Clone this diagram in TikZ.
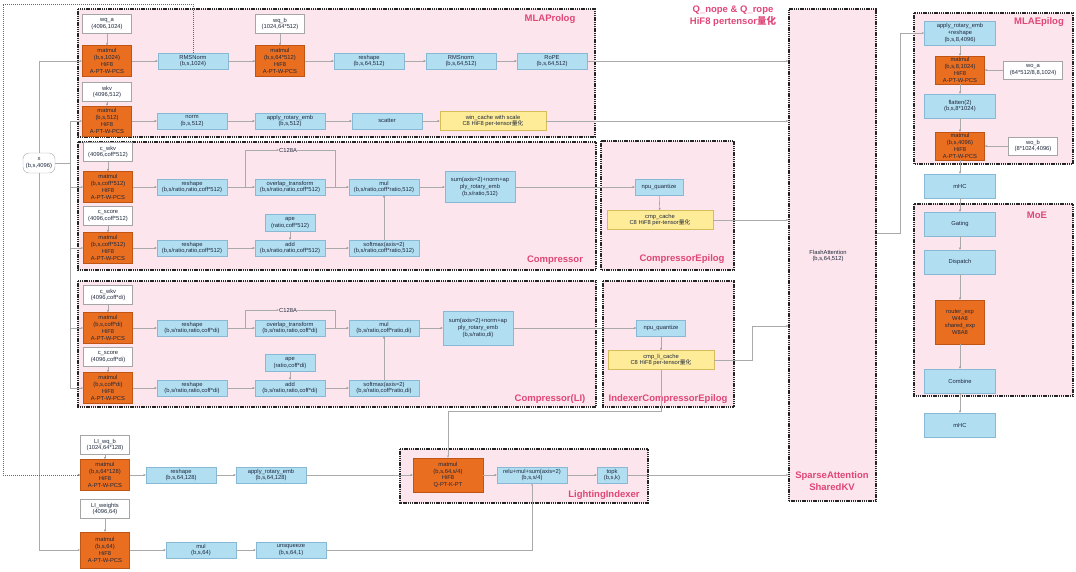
\documentclass[tikz,border=0pt]{standalone}
\usepackage{fontspec}
\setmainfont{Liberation Sans}
\newfontfamily\cjk{Noto Sans CJK SC}
\usetikzlibrary{arrows.meta}
\definecolor{grpfill}{RGB}{252,229,236}
\definecolor{opfill}{RGB}{178,222,242}
\definecolor{opline}{RGB}{135,185,212}
\definecolor{mmfill}{RGB}{234,110,32}
\definecolor{mmline}{RGB}{190,85,20}
\definecolor{cafill}{RGB}{255,236,153}
\definecolor{caline}{RGB}{215,188,90}
\definecolor{wline}{RGB}{165,165,165}
\definecolor{lnc}{RGB}{170,170,170}
\definecolor{ttl}{RGB}{224,70,120}
\definecolor{txt}{RGB}{30,40,60}
\tikzset{
    opnode/.style = {rectangle, draw=opline, fill=opfill, minimum width=70pt, minimum height=16pt, inner sep=0pt, align=center, text=txt, font=\fontsize{5.8}{6.6}\selectfont},
    bigop/.style = {opnode, minimum width=71pt, minimum height=24pt},
    mmnode/.style = {rectangle, draw=mmline, fill=mmfill, minimum width=49pt, minimum height=31pt, inner sep=0pt, align=center, text=txt, font=\fontsize{5.8}{6.8}\selectfont},
    wnode/.style = {rectangle, draw=wline, fill=white, minimum width=49pt, minimum height=19pt, inner sep=0pt, align=center, text=txt, font=\fontsize{5.8}{6.8}\selectfont},
    cachenode/.style = {rectangle, draw=caline, fill=cafill, minimum width=106pt, minimum height=19pt, inner sep=0pt, align=center, text=txt, font=\fontsize{5.8}{6.8}\selectfont},
    xnode/.style = {rectangle, rounded corners=6pt, draw=wline, fill=white, minimum width=32pt, minimum height=20pt, inner sep=0pt, align=center, text=txt, font=\fontsize{5.8}{6.8}\selectfont},
    lbl/.style = {inner sep=0pt, align=center, text=txt, font=\fontsize{5.8}{6.8}\selectfont},
    grp/.style = {draw=black!85, fill=grpfill, line width=1.1pt, dash pattern=on 1.4pt off 0.8pt},
    grptitle/.style = {inner sep=0pt, align=center, text=ttl, font=\fontsize{9.5}{11.5}\bfseries\selectfont},
    edgen/.style = {-{Stealth[length=2.5pt,width=2pt]}, draw=lnc, line width=0.6pt},
    linen/.style = {draw=lnc, line width=0.6pt},
    edged/.style = {-{Stealth[length=2.5pt,width=2pt]}, draw=black!60, line width=0.6pt, dash pattern=on 1pt off 1pt}, % qr to indexer
}

\begin{document}
\begin{tikzpicture}[x=1pt,y=-1pt]
\useasboundingbox (0,0) rectangle (1076,571);
% groups
\draw[grp] (78,9) rectangle (595,137);
\draw[grp] (78,142) rectangle (596,270);
\draw[grp] (601,141) rectangle (734,270);
\draw[grp] (78,281) rectangle (596,407);
\draw[grp] (603,281) rectangle (734,407);
\draw[grp] (400,449) rectangle (648,503);
\draw[grp] (914,13) rectangle (1073,164);
\draw[grp] (914,204) rectangle (1073,396);
\node[grp, minimum width=87pt, minimum height=492pt, inner sep=0pt] at (832.5,255) (sa) {};
%
\node[grptitle] at (550,19) (tmla) {MLAProlog};
\node[grptitle] at (733,16) (tq) {Q\_nope \& Q\_rope\\HiF8 pertensor{\cjk 量化}};
\node[grptitle] at (555,260) (tcmp) {Compressor};
\node[grptitle] at (682,259) (tcmpe) {CompressorEpilog};
\node[grptitle] at (550,399) (tcmpli) {Compressor(LI)};
\node[grptitle] at (668,399) (tcmpeli) {IndexerCompressorEpilog};
\node[grptitle] at (604,495) (tli) {LightingIndexer};
\node[grptitle] at (832,481) (tsa) {SparseAttention\\SharedKV};
\node[grptitle] at (1039,22) (tmlae) {MLAEpilog};
\node[grptitle] at (1037,215) (tmoe) {MoE};
\node[lbl] at (828,256) (fa) {FlashAttention\\(b,s,64,512)};
%
\node[xnode] at (39,163) (xin) {x\\(b,s,4096)};
% MLAProlog
\node[wnode] at (107,24) (wqa) {wq\_a\\(4096,1024)};
\node[mmnode] at (107,61) (mmqa) {matmul\\(b,s,1024)\\HiF8\\A-PT-W-PCS};
\node[opnode] at (193,61) (rmsq) {RMSNorm\\(b,s,1024)};
\node[wnode] at (280,24) (wqb) {wq\_b\\(1024,64*512)};
\node[mmnode] at (280,61) (mmqb) {matmul\\(b,s,64*512)\\HiF8\\A-PT-W-PCS};
\node[opnode] at (369,61) (rsq) {reshape\\(b,s,64,512)};
\node[opnode] at (461,61) (rmsq2) {RMSnorm\\(b,s,64,512)};
\node[opnode] at (552,61) (rope) {RoPE\\(b,s,64,512)};
\node[wnode] at (107,92) (wkv) {wkv\\(4096,512)};
\node[mmnode, minimum height=30pt] at (107,121) (mmkv) {matmul\\(b,s,512)\\HiF8\\A-PT-W-PCS};
\node[opnode] at (192,121) (normkv) {norm\\(b,s,512)};
\node[opnode] at (290,121) (rotkv) {apply\_rotary\_emb\\(b,s,512)};
\node[opnode] at (387,121) (scat) {scatter};
\node[cachenode] at (493,121) (wcache) {win\_cache with scale\\C8 HiF8 per-tensor{\cjk 量化}};
% Compressor
\node[wnode] at (108,152) (cwkv) {c\_wkv\\(4096,coff*512)};
\node[mmnode] at (108,187) (mmcwkv) {matmul\\(b,s,coff*512)\\HiF8\\A-PT-W-PCS};
\node[opnode] at (192,187) (rsc) {reshape\\(b,s/ratio,ratio,coff*512)};
\node[lbl, anchor=west] at (279,150) (c128) {C128A};
\node[opnode] at (290,187) (ovl) {overlap\_transform\\(b,s/ratio,ratio,coff*512)};
\node[opnode] at (384,187) (mulc) {mul\\(b,s/ratio,coff*ratio,512)};
\node[opnode, minimum height=31pt] at (480,187) (sumc) {sum(axis=2)+norm+ap\\ply\_rotary\_emb\\(b,s/ratio,512)};
\node[wnode] at (108,216) (cscore) {c\_score\\(4096,coff*512)};
\node[mmnode] at (108,248) (mmcscore) {matmul\\(b,s,coff*512)\\HiF8\\A-PT-W-PCS};
\node[opnode] at (192,248) (rsc2) {reshape\\(b,s/ratio,ratio,coff*512)};
\node[opnode, minimum width=50pt, minimum height=17pt] at (290,223) (ape) {ape\\(ratio,coff*512)};
\node[opnode] at (290,248) (addc) {add\\(b,s/ratio,ratio,coff*512)};
\node[opnode] at (384,248) (smc) {softmax(axis=2)\\(b,s/ratio,coff*ratio,512)};
\node[opnode, minimum width=48pt] at (659,187) (npuc) {npu\_quantize};
\node[cachenode] at (660,220) (cmpc) {cmp\_cache\\C8 HiF8 per-tensor{\cjk 量化}};
% Compressor(LI)
\node[wnode] at (108,295) (cwkvli) {c\_wkv\\(4096,coff*di)};
\node[mmnode] at (108,328) (mmcwkvli) {matmul\\(b,s,coff*di)\\HiF8\\A-PT-W-PCS};
\node[opnode] at (192,328) (rsli) {reshape\\(b,s/ratio,ratio,coff*di)};
\node[lbl, anchor=west] at (279,310) (c128li) {C128A};
\node[opnode] at (290,328) (ovlli) {overlap\_transform\\(b,s/ratio,ratio,coff*di)};
\node[opnode] at (384,328) (mulli) {mul\\(b,s/ratio,coff*ratio,di)};
\node[opnode, minimum height=34pt] at (478,328) (sumli) {sum(axis=2)+norm+ap\\ply\_rotary\_emb\\(b,s/ratio,di)};
\node[wnode] at (108,357) (cscoreli) {c\_score\\(4096,coff*di)};
\node[mmnode] at (108,388) (mmcscoreli) {matmul\\(b,s,coff*di)\\HiF8\\A-PT-W-PCS};
\node[opnode] at (192,388) (rsli2) {reshape\\(b,s/ratio,ratio,coff*di)};
\node[opnode, minimum width=50pt, minimum height=17pt] at (290,363) (apeli) {ape\\(ratio,coff*di)};
\node[opnode] at (290,388) (addli) {add\\(b,s/ratio,ratio,coff*di)};
\node[opnode] at (384,388) (smli) {softmax(axis=2)\\(b,s/ratio,coff*ratio,di)};
\node[opnode, minimum width=49pt] at (661,328) (npuli) {npu\_quantize};
\node[cachenode] at (661,360) (cmpli) {cmp\_li\_cache\\C8 HiF8 per-tensor{\cjk 量化}};
% indexer inputs
\node[wnode] at (105,445) (liwqb) {LI\_wq\_b\\(1024,64*128)};
\node[mmnode] at (105,475) (mmli) {matmul\\(b,s,64*128)\\HiF8\\A-PT-W-PCS};
\node[opnode] at (181,475) (rsli3) {reshape\\(b,s,64,128)};
\node[opnode] at (271,475) (rotli) {apply\_rotary\_emb\\(b,s,64,128)};
\node[wnode] at (105,509) (liw) {LI\_weights\\(4096,64)};
\node[mmnode, minimum height=36pt] at (105,550) (mmw) {matmul\\(b,s,64)\\HiF8\\A-PT-W-PCS};
\node[opnode] at (201,550) (mulw) {mul\\(b,s,64)};
\node[opnode] at (291,550) (unsq) {unsqueeze\\(b,s,64,1)};
% LightingIndexer
\node[mmnode, minimum width=70pt, minimum height=34pt] at (448,475) (lmm) {matmul\\(b,s,64,s/4)\\HiF8\\Q-PT-K-PT};
\node[opnode] at (532,475) (relu) {relu+mul+sum(axis=2)\\(b,s,s/4)};
\node[opnode, minimum width=30pt] at (612,475) (topk) {topk\\(b,s,k)};
% MLAEpilog / MoE
\node[bigop] at (960,33) (rotout) {apply\_rotary\_emb\\+reshape\\(b,s,8,4096)};
\node[mmnode, minimum height=28pt] at (960,70) (mmoa) {matmul\\(b,s,8,1024)\\HiF8\\A-PT-W-PCS};
\node[wnode, minimum width=59pt, minimum height=18pt] at (1033,70) (woa) {wo\_a\\(64*512/8,8,1024)};
\node[bigop] at (960,106) (flat) {flatten(2)\\(b,s,8*1024)};
\node[mmnode, minimum height=28pt] at (960,146) (mmob) {matmul\\(b,s,4096)\\HiF8\\A-PT-W-PCS};
\node[wnode, minimum height=18pt] at (1033,146) (wob) {wo\_b\\(8*1024,4096)};
\node[bigop] at (960,186) (mhc1) {mHC};
\node[bigop] at (960,224) (gate) {Gating};
\node[bigop] at (960,262) (disp) {Dispatch};
\node[mmnode, minimum height=44pt] at (960,322) (expt) {router\_exp\\W4A8\\shared\_exp\\W8A8};
\node[bigop] at (960,381) (comb) {Combine};
\node[bigop] at (960,425) (mhc2) {mHC};
%
\coordinate (xb) at (70,163);
\coordinate (dt) at (3,4);
\coordinate (cb1) at (245,187);
\coordinate (cj1) at (335,187);
\coordinate (cb2) at (245,328);
\coordinate (cj2) at (335,328);
\coordinate (lij) at (752,326);
\coordinate (lik) at (448,411);
\coordinate (sar) at (900,233);
%
\draw[linen] (xin) -- (xb);
\draw[edgen] (xin.north) |- (mmqa);
\draw[edgen] (xin.south) |- (mmw);
\draw[edgen] (xb) |- (mmkv);
\draw[edgen] (xb) |- (mmcwkv);
\draw[edgen] (xb) |- (mmcscore);
\draw[edgen] (xb) |- (mmcwkvli);
\draw[edgen] (xb) |- (mmcscoreli);
\draw[edged] (rmsq.north) |- (dt) |- (mmli);
%
\draw[edgen] (wqa) edge (mmqa) (wqb) edge (mmqb) (wkv) edge (mmkv);
\draw[edgen] (mmqa) edge (rmsq) (rmsq) edge (mmqb) (mmqb) edge (rsq) (rsq) edge (rmsq2) (rmsq2) edge (rope);
\draw[edgen] (mmkv) edge (normkv) (normkv) edge (rotkv) (rotkv) edge (scat) (scat) edge (wcache);
\draw[edgen] (rope) -- (rope -| sa.west);
\draw[edgen] (wcache) -- (wcache -| sa.west);
%
\draw[edgen] (cwkv) edge (mmcwkv) (mmcwkv) edge (rsc) (rsc) edge (ovl) (ovl) edge (mulc) (mulc) edge (sumc);
\draw[edgen] (cb1) |- (c128.west);
\draw[linen] (c128.east) -| (cj1);
\draw[edgen] (cscore) edge (mmcscore) (mmcscore) edge (rsc2) (rsc2) edge (addc) (ape) edge (addc) (addc) edge (smc) (smc) edge (mulc);
\draw[edgen] (sumc) edge (npuc) (npuc) edge (cmpc);
\draw[edgen] (cmpc) -- (cmpc -| sa.west);
%
\draw[edgen] (cwkvli) edge (mmcwkvli) (mmcwkvli) edge (rsli) (rsli) edge (ovlli) (ovlli) edge (mulli) (mulli) edge (sumli);
\draw[edgen] (cb2) |- (c128li.west);
\draw[linen] (c128li.east) -| (cj2);
\draw[edgen] (cscoreli) edge (mmcscoreli) (mmcscoreli) edge (rsli2) (rsli2) edge (addli) (apeli) edge (addli) (addli) edge (smli) (smli) edge (mulli);
\draw[edgen] (sumli) edge (npuli) (npuli) edge (cmpli);
\draw[edgen] (cmpli.east) -| (lij) -- (lij -| sa.west);
\draw[edgen] (cmpli.south) |- (lik) -- (lmm.north);
%
\draw[edgen] (liwqb) edge (mmli) (mmli) edge (rsli3) (rsli3) edge (rotli) (rotli) edge (lmm);
\draw[edgen] (liw) edge (mmw) (mmw) edge (mulw) (mulw) edge (unsq);
\draw[edgen] (unsq) -| (relu);
\draw[edgen] (lmm) edge (relu) (relu) edge (topk);
\draw[edgen] (topk) -- (topk -| sa.west);
%
\draw[edgen] (sa.east |- sar) -- (sar) |- (rotout.west);
\draw[edgen] (rotout) edge (mmoa) (woa) edge (mmoa) (mmoa) edge (flat) (flat) edge (mmob) (wob) edge (mmob) (mmob) edge (mhc1);
\draw[edgen] (mhc1) edge (gate) (gate) edge (disp) (disp) edge (expt) (expt) edge (comb) (comb) edge (mhc2);
\end{tikzpicture}
\end{document}
